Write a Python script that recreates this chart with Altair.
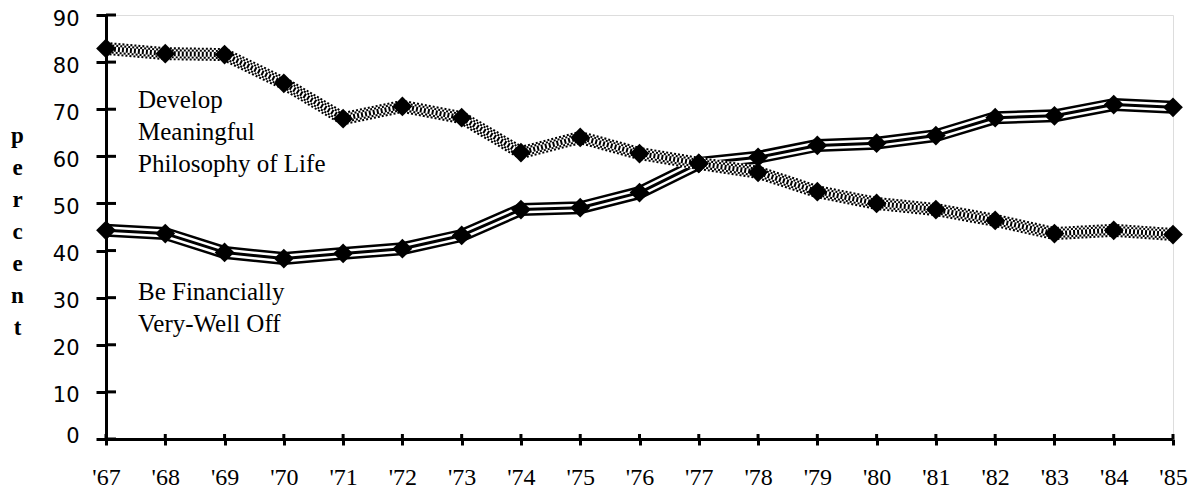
import altair as alt
import pandas as pd

years = ["'67", "'68", "'69", "'70", "'71", "'72", "'73", "'74", "'75", "'76",
         "'77", "'78", "'79", "'80", "'81", "'82", "'83", "'84", "'85"]
philosophy = [82.9, 81.8, 81.6, 75.5, 68.0, 70.6, 68.2, 60.8, 64.0, 60.6,
              58.5, 56.6, 52.5, 50.0, 48.7, 46.4, 43.6, 44.3, 43.4]
financial = [44.3, 43.6, 39.6, 38.3, 39.4, 40.4, 43.2, 48.7, 49.1, 52.3,
             58.5, 59.8, 62.3, 62.8, 64.4, 68.2, 68.6, 71.0, 70.4]
y_ticks = [0, 10, 20, 30, 40, 50, 60, 70, 80, 90]
phil_label = ["Develop", "Meaningful", "Philosophy of Life"]
fin_label = ["Be Financially", "Very-Well Off"]
y_title = ["p", "e", "r", "c", "e", "n", "t"]

W, H = 1067, 424

df_phil = pd.DataFrame({"year": years, "value": philosophy})
df_fin = pd.DataFrame({"year": years, "value": financial})
df_all = pd.concat([df_phil.assign(series="phil"), df_fin.assign(series="fin")])

X = alt.X("year:O", sort=years, scale=alt.Scale(type="point", padding=0),
          axis=alt.Axis(title=None, labelAngle=0, labelFont="Liberation Serif",
                        labelFontSize=24, labelColor="black", tickSize=6,
                        labelPadding=20, domainWidth=3, tickWidth=3,
                        domainColor="black", tickColor="black", grid=False))
Y = alt.Y("value:Q", scale=alt.Scale(domain=[0, 90], nice=False, zero=True),
          axis=alt.Axis(title=y_title, titleAngle=0, titleX=-89, titleY=127,
                        titleAlign="center", titleBaseline="alphabetic",
                        titleLineHeight=32, titleFont="Liberation Serif",
                        titleFontSize=23, titleFontWeight="bold", titleColor="black",
                        values=y_ticks, labelFont="DejaVu Sans", labelFontSize=21,
                        labelColor="black", tickSize=10, labelPadding=17,
                        labelOffset={"condition": {"test": "datum.value === 0", "value": -3}, "value": 4},
                        domainWidth=3, tickWidth=3, domainColor="black",
                        tickColor="black", grid=False))


def band(df, width, color, dash=None, offset=0):
    kw = dict(strokeWidth=width, color=color, strokeCap="butt", strokeJoin="round")
    if dash:
        kw["strokeDash"] = dash
        kw["strokeDashOffset"] = offset
    return alt.Chart(df).mark_line(**kw).encode(x=X, y=Y)


# striped financial line
fin_layers = [
    band(df_fin, 13, "black"),
    band(df_fin, 8, "white"),
    band(df_fin, 3, "black"),
]

# stippled philosophy line (checker texture)
phil_layers = [
    band(df_phil, 13, "white"),
    band(df_phil, 13, "black", [2, 2], 0),
    band(df_phil, 9, "white"),
    band(df_phil, 9, "black", [2, 2], 2),
    band(df_phil, 5, "white"),
    band(df_phil, 5, "black", [2, 2], 0),
]

points = alt.Chart(df_all).mark_point(shape="diamond", filled=True, size=390,
                                      color="black", opacity=1).encode(x=X, y=Y)

yt = alt.Chart(pd.DataFrame({"value": y_ticks})).mark_rule(
    color="black", strokeWidth=3).encode(y=Y, x=alt.value(0), x2=alt.value(10))
xt = alt.Chart(pd.DataFrame({"year": years})).mark_rule(
    color="black", strokeWidth=3).encode(x=X, y=alt.value(H - 5), y2=alt.value(H))

one = pd.DataFrame({"a": [0]})
t1 = alt.Chart(one).mark_text(text=phil_label, align="left", baseline="alphabetic",
                              font="Liberation Serif", fontSize=25, lineHeight=32,
                              color="black").encode(x=alt.value(32), y=alt.value(93))
t2 = alt.Chart(one).mark_text(text=fin_label, align="left", baseline="alphabetic",
                              font="Liberation Serif", fontSize=25, lineHeight=32,
                              color="black").encode(x=alt.value(32), y=alt.value(285))

chart = alt.layer(*fin_layers, *phil_layers, points, yt, xt, t1, t2).properties(
    width=W, height=H,
    autosize=alt.AutoSizeParams(type="none"),
    padding={"left": 98, "top": 7, "right": 15, "bottom": 50},
).configure_view(stroke="transparent", strokeWidth=0).configure(background="white")

chart.save("out.html", embed_options={"renderer": "svg", "actions": False})
